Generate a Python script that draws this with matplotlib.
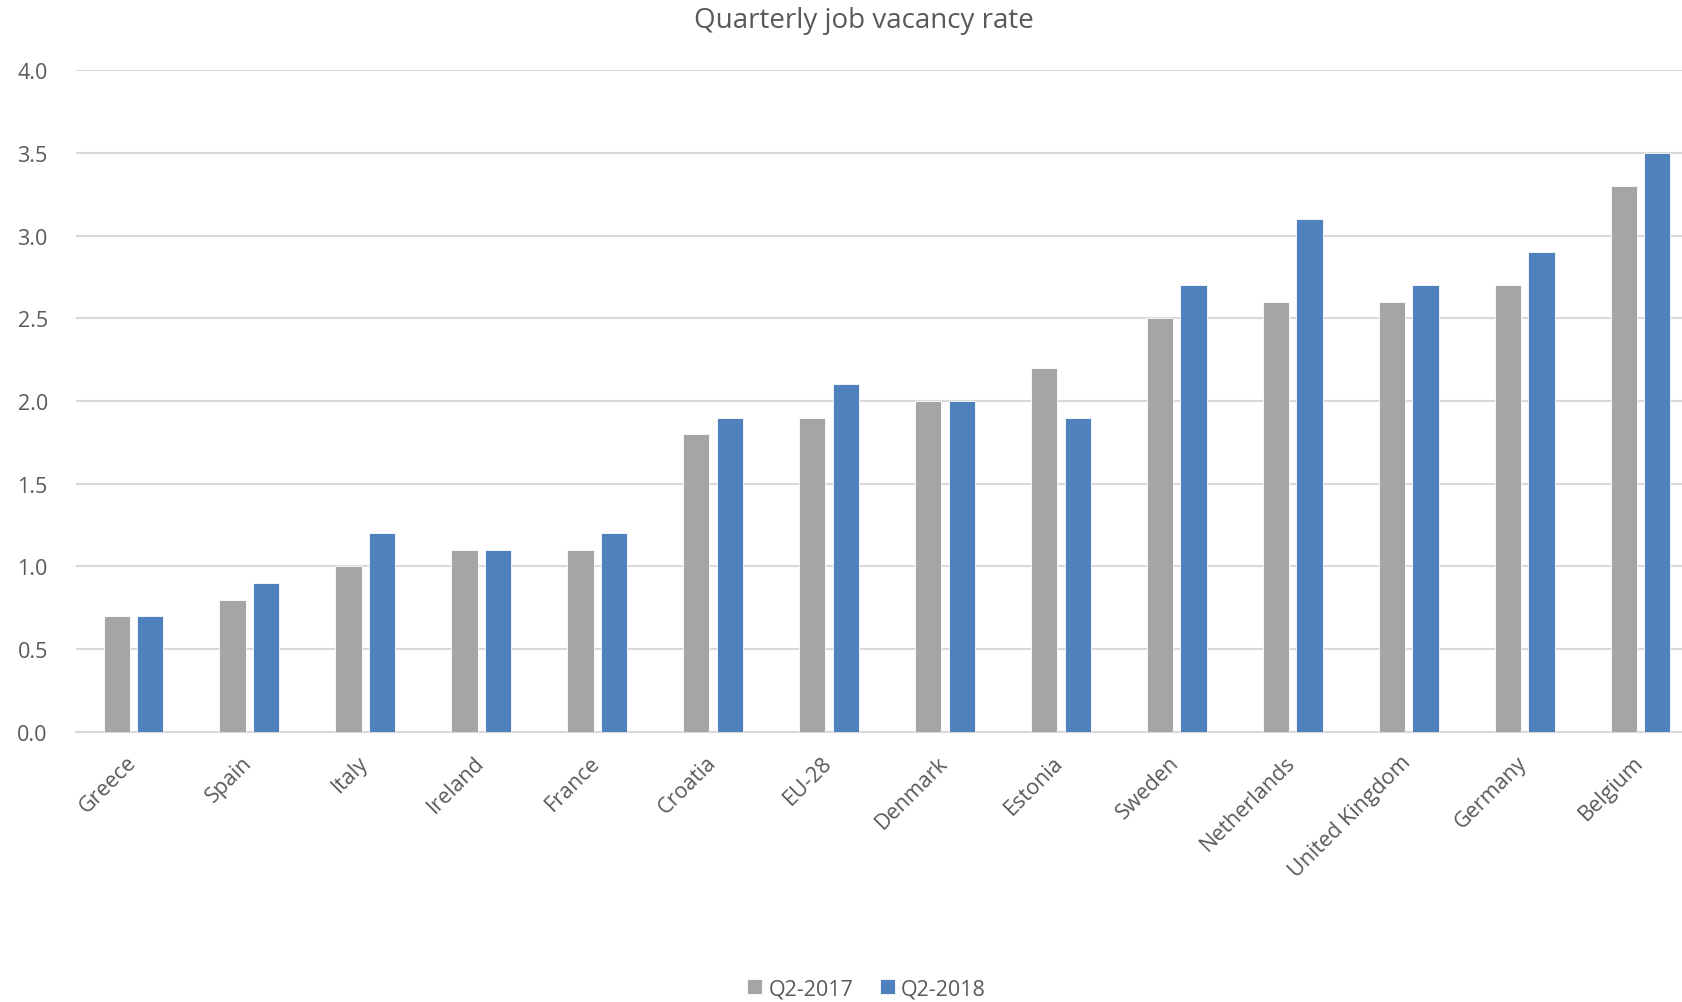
import matplotlib.pyplot as plt
import matplotlib.transforms as mtransforms
import numpy as np

countries = ['Greece', 'Spain', 'Italy', 'Ireland', 'France', 'Croatia', 'EU-28',
             'Denmark', 'Estonia', 'Sweden', 'Netherlands', 'United Kingdom',
             'Germany', 'Belgium']
q2_2017 = [0.7, 0.8, 1.0, 1.1, 1.1, 1.8, 1.9, 2.0, 2.2, 2.5, 2.6, 2.6, 2.7, 3.3]
q2_2018 = [0.7, 0.9, 1.2, 1.1, 1.2, 1.9, 2.1, 2.0, 1.9, 2.7, 3.1, 2.7, 2.9, 3.5]

plt.rcParams['font.family'] = ['Open Sans', 'DejaVu Sans']
text_color = '#595959'

fig = plt.figure(figsize=(16.83, 10.03), dpi=100)
# plot area runs a little past the right edge of the picture, like the original
ax = fig.add_axes([0.0449, 0.2692, 0.9643, 0.66])

x = np.arange(len(countries))
w = 0.227
off = 0.145
ax.bar(x - off, q2_2017, w, color='#a5a5a5', edgecolor='white', linewidth=0.6, label='Q2-2017', zorder=3)
ax.bar(x + off, q2_2018, w, color='#4f81bd', edgecolor='white', linewidth=0.6, label='Q2-2018', zorder=3)

ax.set_xlim(-0.5, len(countries) - 0.5)
ax.set_ylim(0, 4.0)
ax.set_yticks(np.arange(0, 4.01, 0.5))
ax.set_yticklabels([f'{v:.1f}' for v in np.arange(0, 4.01, 0.5)])
ax.yaxis.grid(True, color='#d9d9d9', linewidth=1.5, zorder=0)
ax.set_axisbelow(True)
for s in ['top', 'right', 'left']:
    ax.spines[s].set_visible(False)
ax.spines['bottom'].set_color('#d9d9d9')
ax.spines['bottom'].set_linewidth(1.5)
ax.tick_params(axis='both', length=0, labelsize=15.5, colors=text_color)
ax.tick_params(axis='y', pad=20)
ax.tick_params(axis='x', pad=14)
ax.set_xticks(x)
ax.set_xticklabels(countries, rotation=45, ha='right', rotation_mode='anchor')
# nudge the slanted labels a bit to the left
shift = mtransforms.ScaledTranslation(-8 / 100, 0, fig.dpi_scale_trans)
for lbl in ax.get_xticklabels():
    lbl.set_transform(lbl.get_transform() + shift)

fig.text(0.513, 0.979, 'Quarterly job vacancy rate', ha='center', va='center',
         fontsize=20, color=text_color)

leg = fig.legend(loc='center', bbox_to_anchor=(0.515, 0.013), ncol=2, frameon=False,
                 fontsize=15.5, handlelength=0.7, handleheight=0.7, handletextpad=0.3,
                 columnspacing=1.2)
for t in leg.get_texts():
    t.set_color(text_color)

fig.savefig('out.png', dpi=100)
